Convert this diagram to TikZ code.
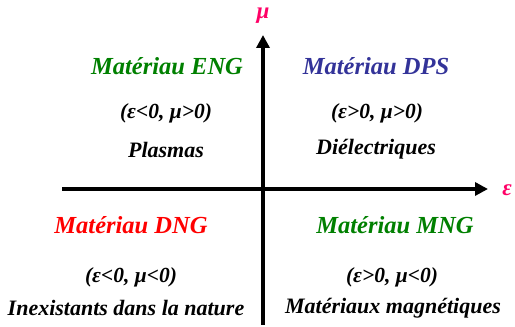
\documentclass[tikz,border=0pt]{standalone}
\usepackage{fontspec}
\setmainfont{Liberation Serif}
\usepackage{tikz}
\usepackage{xcolor}
\usetikzlibrary{positioning, arrows.meta}
\definecolor{axispink}{RGB}{255, 0, 102}
\definecolor{matgreen}{RGB}{0, 128, 0}
\definecolor{matblue}{RGB}{51, 51, 153}
\definecolor{matred}{RGB}{255, 0, 0}

\begin{document}
\begin{tikzpicture}[x=1pt, y=1pt,
    every node/.style={align=center, inner sep=0pt},
    matname/.style={font=\fontsize{24.5}{26}\selectfont\bfseries\itshape},
    signs/.style={font=\fontsize{21.5}{23}\selectfont\bfseries\itshape},
    example/.style={font=\fontsize{22}{24}\selectfont\bfseries\itshape},
    axislabel/.style={font=\fontsize{23}{25}\selectfont\bfseries\itshape, text=axispink},
    axisline/.style={line width=3.5pt, -{Triangle[length=13pt, width=13pt]}}]
    \useasboundingbox (0,0) rectangle (515,327);

    \coordinate (xstart) at (62, 138);
    \coordinate (xend)   at (488, 138);
    \coordinate (ystart) at (263, 2);
    \coordinate (yend)   at (263, 292);
    \draw[axisline] (xstart) -- (xend);
    \draw[axisline] (ystart) -- (yend);

    \node[axislabel] (eps) at (507, 137) {ε};
    \node[axislabel, anchor=base] (mu) at (263, 308) {μ};

    % quadrant II
    \node[matname, text=matgreen] (eng) at (167, 261) {Matériau ENG};
    \node[signs] (engsigns) at (166, 214) {(ε<0, μ>0)};
    \node[example] (engex) at (166, 177) {Plasmas};

    % quadrant I
    \node[matname, text=matblue] (dps) at (376, 261) {Matériau DPS};
    \node[signs] (dpssigns) at (377, 214) {(ε>0, μ>0)};
    \node[example] (dpsex) at (376, 178) {Diélectriques};

    % quadrant III
    \node[matname, text=matred] (dng) at (131, 102) {Matériau DNG};
    \node[signs] (dngsigns) at (131, 50) {(ε<0, μ<0)};
    \node[example] (dngex) at (126, 19) {Inexistants dans la nature};

    % quadrant IV
    \node[matname, text=matgreen] (mng) at (395, 102) {Matériau MNG};
    \node[signs] (mngsigns) at (392, 50) {(ε>0, μ<0)};
    \node[example] (mngex) at (393, 19) {Matériaux magnétiques};
\end{tikzpicture}
\end{document}
